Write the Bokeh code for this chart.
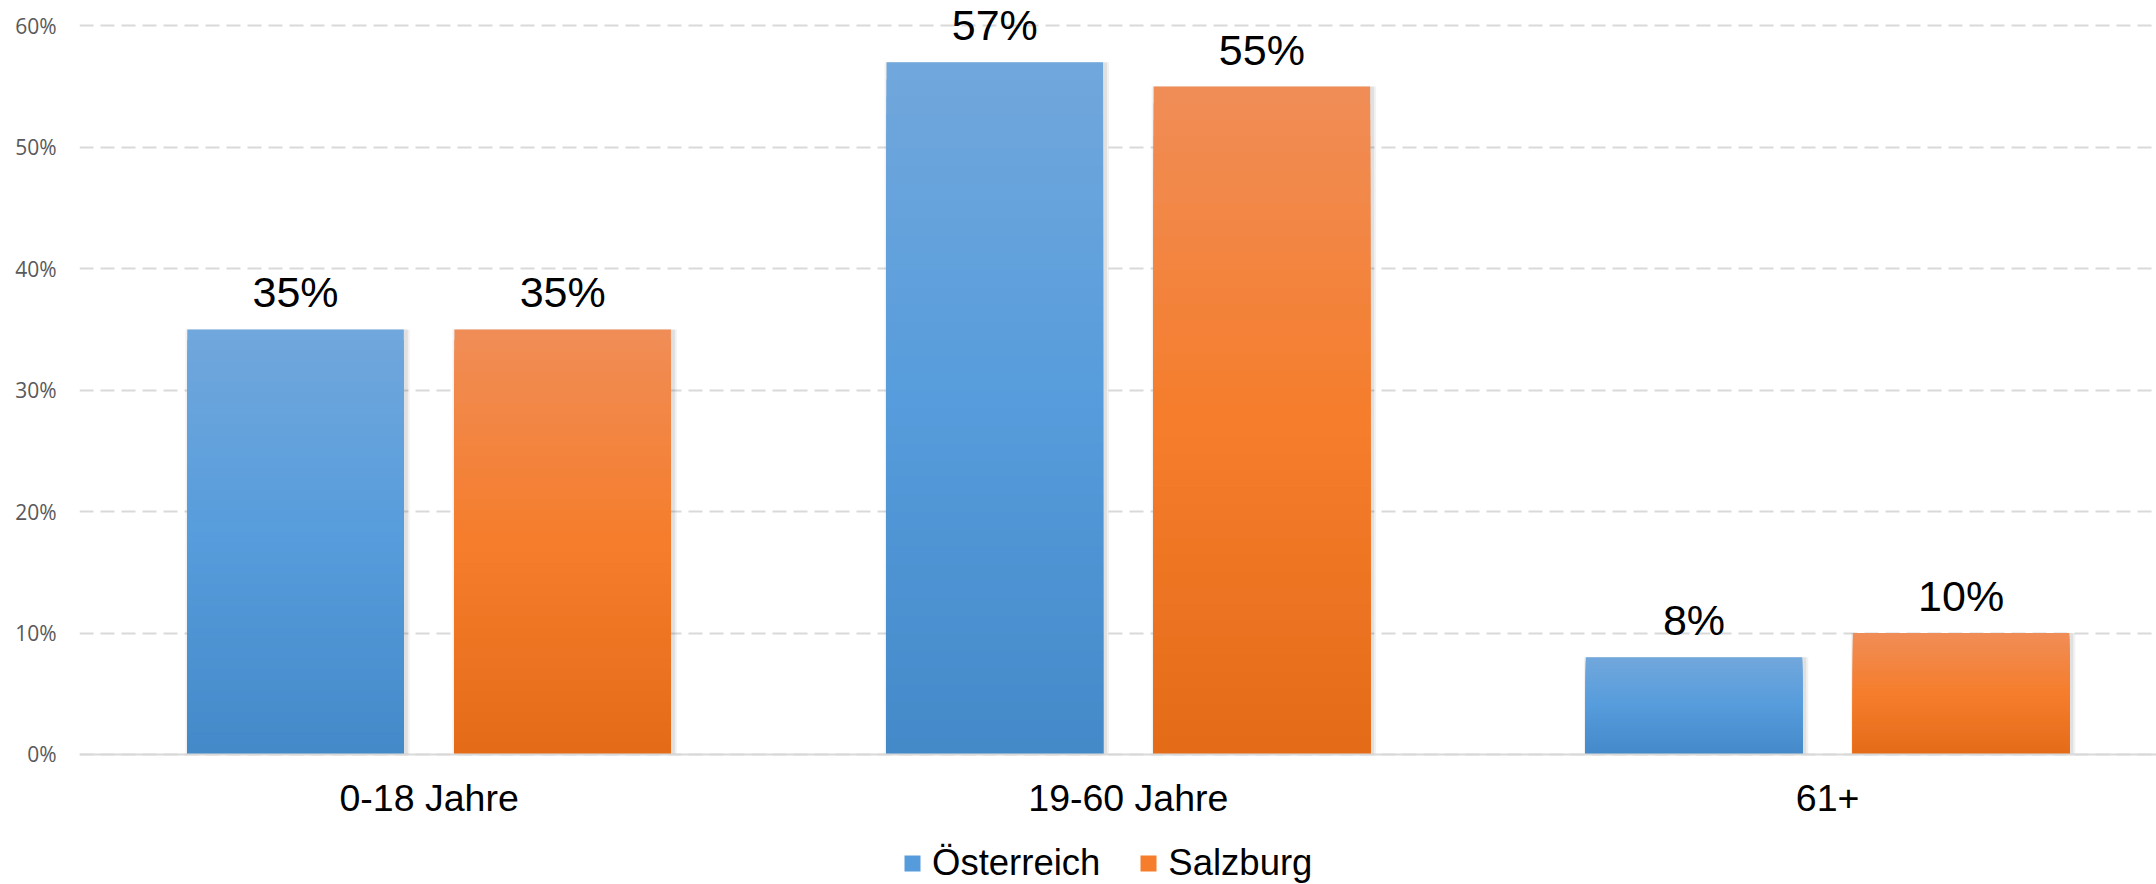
from bokeh.plotting import figure
from bokeh.models import (Range1d, FixedTicker, NumeralTickFormatter, Legend,
                          LegendItem, ColumnDataSource, Span)
from bokeh.core.properties import value
from bokeh.embed import file_html
from bokeh.resources import INLINE

# ---------------- data ----------------
categories = ["0-18 Jahre", "19-60 Jahre", "61+"]
series_names = ["Österreich", "Salzburg"]
oesterreich = [0.35, 0.57, 0.08]
salzburg = [0.35, 0.55, 0.10]
y_ticks = [0.0, 0.1, 0.2, 0.3, 0.4, 0.5, 0.6]

# gradient stops (top, middle, bottom)
blue_stops = ["#71a7dc", "#569cdc", "#4489c8"]
orange_stops = ["#f08d57", "#f57d2b", "#e46c19"]

# ---------------- layout constants ----------------
W, H = 2156, 884
BORDER_L = 79
X_START, X_END = -0.5, 2.4704
Y_START, Y_END = -0.10704, 0.62083
PX_X = (W - BORDER_L) / (X_END - X_START)
BAR_W = 0.3096
OFFSET = 0.191
N_SLICES = 40


def hex2rgb(h):
    h = h.lstrip("#")
    return tuple(int(h[i:i + 2], 16) for i in (0, 2, 4))


def grad(stops, t):
    # t: 0 top -> 1 bottom
    a, b, c = [hex2rgb(s) for s in stops]
    if t <= 0.5:
        u = t / 0.5
        p0, p1 = a, b
    else:
        u = (t - 0.5) / 0.5
        p0, p1 = b, c
    r = [round(p0[j] + (p1[j] - p0[j]) * u) for j in range(3)]
    return "#%02x%02x%02x" % tuple(r)


p = figure(width=W, height=H, output_backend="svg", toolbar_location=None,
           x_range=Range1d(X_START, X_END), y_range=Range1d(Y_START, Y_END),
           x_axis_location=None,
           min_border_left=BORDER_L, min_border_right=0, min_border_top=0,
           min_border_bottom=0)
p.outline_line_color = None
p.background_fill_color = "white"
p.border_fill_color = "white"

# grid
p.xgrid.grid_line_color = None
p.ygrid.grid_line_color = "#d9d9d9"
p.ygrid.grid_line_width = 2
p.ygrid.grid_line_dash = "14 7"

# y axis
p.yaxis.ticker = FixedTicker(ticks=y_ticks)
p.yaxis.formatter = NumeralTickFormatter(format="0%")
p.yaxis.axis_line_color = None
p.yaxis.major_tick_line_color = None
p.yaxis.minor_tick_line_color = None
p.yaxis.major_tick_out = 0
p.yaxis.major_tick_in = 0
p.yaxis.major_label_standoff = 23
p.yaxis.major_label_text_font = "Open Sans"
p.yaxis.major_label_text_font_size = "21px"
p.yaxis.major_label_text_color = "#595959"

legend_items = []
for name, vals, stops, off in [(series_names[0], oesterreich, blue_stops, -OFFSET),
                               (series_names[1], salzburg, orange_stops, OFFSET)]:
    xs = [i + off for i in range(len(categories))]

    # soft shadow
    for extra, alpha in [(8, 0.05), (4, 0.07)]:
        p.vbar(x=[x + 2 / PX_X for x in xs], top=vals, bottom=0,
               width=BAR_W + extra / PX_X, fill_color="black", fill_alpha=alpha,
               line_color=None)

    # gradient bar: nested slices from full height down
    sx, st, sc = [], [], []
    for k in range(N_SLICES):
        frac = 1 - k / N_SLICES
        col = grad(stops, (k + 0.5) / N_SLICES)
        for i, v in enumerate(vals):
            sx.append(xs[i])
            st.append(v * frac)
            sc.append(col)
    src = ColumnDataSource(dict(x=sx, top=st, color=sc))
    r = p.vbar(x="x", top="top", bottom=0, width=BAR_W, fill_color="color",
               line_color=None, source=src)
    legend_items.append(LegendItem(label=name, renderers=[r],
                                   index=(N_SLICES // 2) * len(categories)))

    # value labels
    p.text(x=xs, y=vals, text=[f"{round(v * 100)}%" for v in vals],
           text_font=value("Liberation Sans"), text_font_size="43px",
           text_color="#000000", text_align="center",
           text_baseline="alphabetic", y_offset=-37)

# category axis: baseline + labels
p.add_layout(Span(location=0, dimension="width", line_color="#d9d9d9",
                  line_width=2))
p.text(x=list(range(len(categories))), y=[0] * len(categories), text=categories,
       text_font=value("Liberation Sans"), text_font_size="37.5px",
       text_color="#000000", text_align="center", text_baseline="alphabetic",
       y_offset=44)

legend = Legend(items=legend_items, orientation="horizontal",
                location=(823, 0))
legend.glyph_width = 20
legend.glyph_height = 20
legend.label_standoff = 10
legend.spacing = 38
legend.padding = 0
legend.margin = 0
legend.border_line_color = None
legend.background_fill_alpha = 0
legend.label_text_font = "Liberation Sans"
legend.label_text_font_size = "36.5px"
legend.label_text_color = "#000000"
p.add_layout(legend)

open("out.html", "w").write(file_html(p, INLINE))
